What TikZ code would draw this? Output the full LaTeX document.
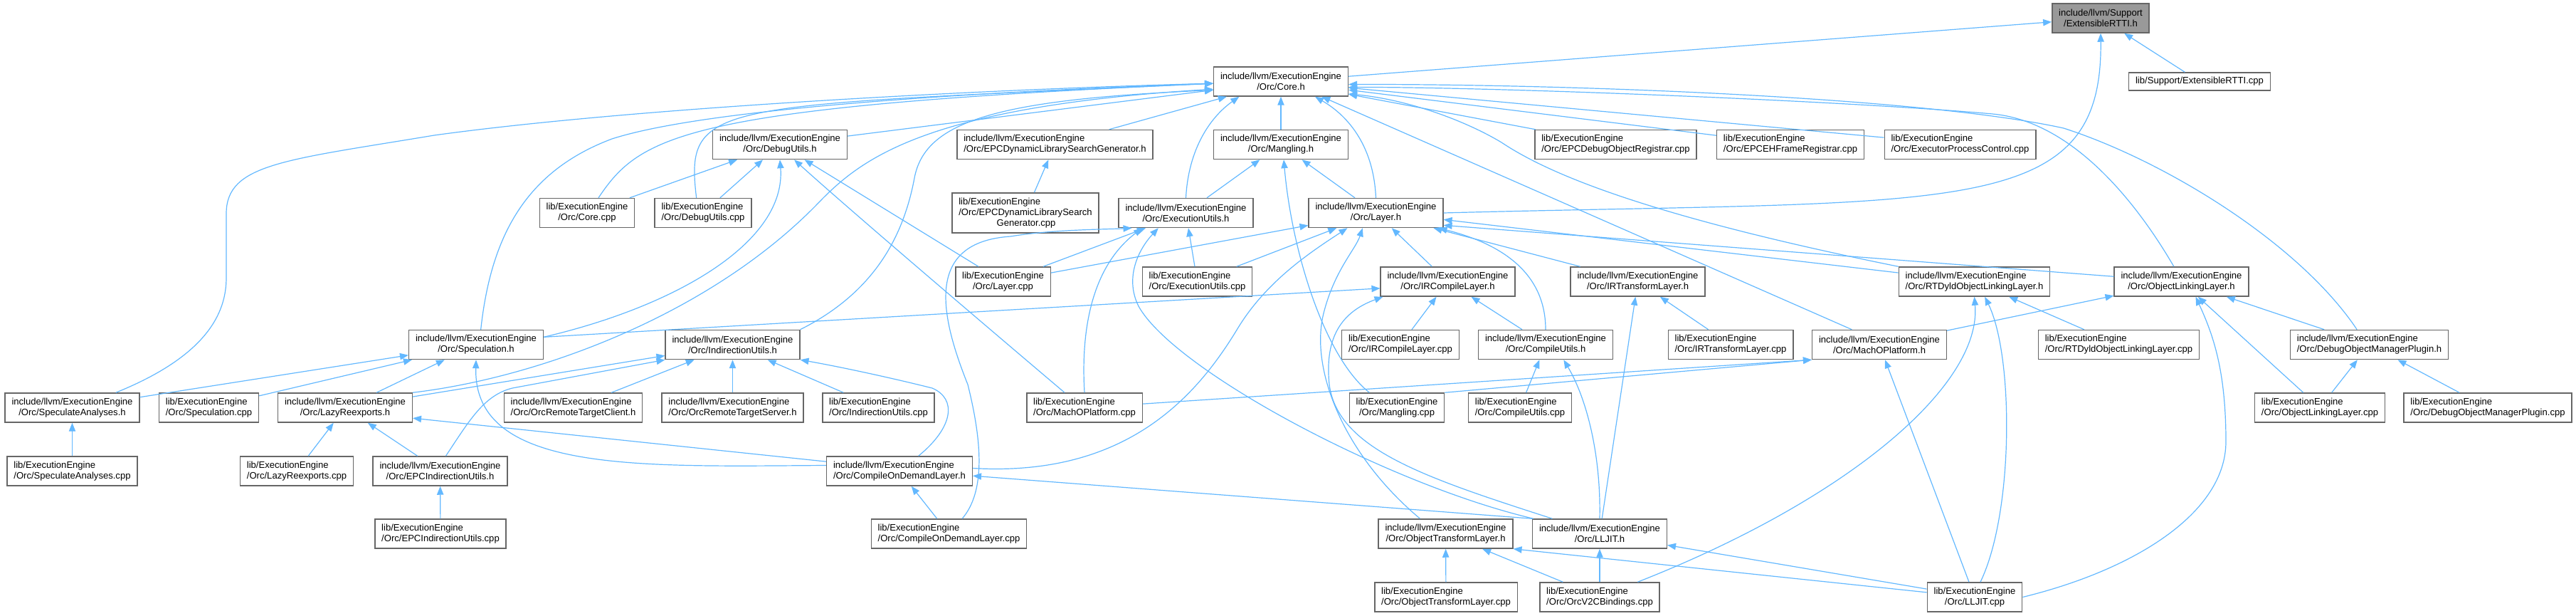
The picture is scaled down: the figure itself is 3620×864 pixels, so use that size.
\documentclass[tikz,border=0pt]{standalone}
\usepackage{fontspec}
\setmainfont{Liberation Sans}
\usepackage{tikz}
\usetikzlibrary{arrows.meta}
\definecolor{edge_color}{RGB}{99,184,255}
\definecolor{box_color}{RGB}{102,102,102}
\definecolor{root_color}{RGB}{153,153,153}

\begin{document}
\begin{tikzpicture}[x=0.75pt, y=-0.75pt, font=\fontsize{9.8}{11.25}\selectfont,
    filebox/.style={draw=box_color, line width=1.1pt, fill=white, inner xsep=7pt, inner ysep=1pt, minimum height=30.75pt},
    hdr/.style={filebox, align=center},
    src/.style={filebox, align=left},
    root/.style={hdr, fill=root_color},
    dep/.style={draw=edge_color, line width=0.9pt, -{Triangle[length=9pt, width=7pt]}}]

      \useasboundingbox (0,0) rectangle (3620,864);

      % 1. NODOS (fila por fila, de arriba abajo)
      % Fila 1
      \node[root] (extrtti_h) at (2952,25.5) {include/llvm/Support\\/ExtensibleRTTI.h};

      % Fila 2
      \node[hdr] (core_h) at (1800,114.5) {include/llvm/ExecutionEngine\\/Orc/Core.h};
      \node[src, minimum height=18.75pt] (extrtti_cpp) at (3091,114.5) {lib/Support/ExtensibleRTTI.cpp};

      % Fila 3
      \node[hdr] (debugutils_h) at (1096,203) {include/llvm/ExecutionEngine\\/Orc/DebugUtils.h};
      \node[src] (epcdlsg_h) at (1482.5,203) {include/llvm/ExecutionEngine\\/Orc/EPCDynamicLibrarySearchGenerator.h};
      \node[hdr] (mangling_h) at (1800,203) {include/llvm/ExecutionEngine\\/Orc/Mangling.h};
      \node[src] (epcdor_cpp) at (2270.5,203) {lib/ExecutionEngine\\/Orc/EPCDebugObjectRegistrar.cpp};
      \node[src] (epcehfr_cpp) at (2516,203) {lib/ExecutionEngine\\/Orc/EPCEHFrameRegistrar.cpp};
      \node[src] (epc_cpp) at (2754.5,203) {lib/ExecutionEngine\\/Orc/ExecutorProcessControl.cpp};

      % Fila 4
      \node[hdr] (core_cpp) at (825,299) {lib/ExecutionEngine\\/Orc/Core.cpp};
      \node[src] (debugutils_cpp) at (988,299) {lib/ExecutionEngine\\/Orc/DebugUtils.cpp};
      \node[src, minimum height=42pt] (epcdlsg_cpp) at (1441,299) {lib/ExecutionEngine\\/Orc/EPCDynamicLibrarySearch\\\hspace*{40pt}Generator.cpp};
      \node[hdr] (executils_h) at (1666.5,299) {include/llvm/ExecutionEngine\\/Orc/ExecutionUtils.h};
      \node[hdr] (layer_h) at (1933.5,299) {include/llvm/ExecutionEngine\\/Orc/Layer.h};

      % Fila 5
      \node[hdr] (layer_cpp) at (1409.5,395.5) {lib/ExecutionEngine\\/Orc/Layer.cpp};
      \node[src] (executils_cpp) at (1682.5,395.5) {lib/ExecutionEngine\\/Orc/ExecutionUtils.cpp};
      \node[hdr] (ircompile_h) at (2034.5,395.5) {include/llvm/ExecutionEngine\\/Orc/IRCompileLayer.h};
      \node[hdr] (irtransform_h) at (2301.5,395.5) {include/llvm/ExecutionEngine\\/Orc/IRTransformLayer.h};
      \node[src] (rtdyld_h) at (2774.5,395.5) {include/llvm/ExecutionEngine\\/Orc/RTDyldObjectLinkingLayer.h};
      \node[hdr] (objlink_h) at (3065.5,395.5) {include/llvm/ExecutionEngine\\/Orc/ObjectLinkingLayer.h};

      % Fila 6
      \node[hdr] (speculation_h) at (669,484) {include/llvm/ExecutionEngine\\/Orc/Speculation.h};
      \node[hdr] (indirutils_h) at (1029.5,484) {include/llvm/ExecutionEngine\\/Orc/IndirectionUtils.h};
      \node[src] (ircompile_cpp) at (1968,484) {lib/ExecutionEngine\\/Orc/IRCompileLayer.cpp};
      \node[hdr] (compileutils_h) at (2172,484) {include/llvm/ExecutionEngine\\/Orc/CompileUtils.h};
      \node[src] (irtransform_cpp) at (2432,484) {lib/ExecutionEngine\\/Orc/IRTransformLayer.cpp};
      \node[hdr] (machoplatform_h) at (2641,484) {include/llvm/ExecutionEngine\\/Orc/MachOPlatform.h};
      \node[src] (rtdyld_cpp) at (2977.5,484) {lib/ExecutionEngine\\/Orc/RTDyldObjectLinkingLayer.cpp};
      \node[src] (domp_h) at (3329.5,484) {include/llvm/ExecutionEngine\\/Orc/DebugObjectManagerPlugin.h};

      % Fila 7
      \node[hdr] (specanalyses_h) at (101.5,572.5) {include/llvm/ExecutionEngine\\/Orc/SpeculateAnalyses.h};
      \node[src] (speculation_cpp) at (293.5,572.5) {lib/ExecutionEngine\\/Orc/Speculation.cpp};
      \node[hdr] (lazyreexports_h) at (485,572.5) {include/llvm/ExecutionEngine\\/Orc/LazyReexports.h};
      \node[src] (orcrtclient_h) at (805.5,572.5) {include/llvm/ExecutionEngine\\/Orc/OrcRemoteTargetClient.h};
      \node[src] (orcrtserver_h) at (1029.5,572.5) {include/llvm/ExecutionEngine\\/Orc/OrcRemoteTargetServer.h};
      \node[src] (indirutils_cpp) at (1234.5,572.5) {lib/ExecutionEngine\\/Orc/IndirectionUtils.cpp};
      \node[src] (machoplatform_cpp) at (1524,572.5) {lib/ExecutionEngine\\/Orc/MachOPlatform.cpp};
      \node[hdr] (mangling_cpp) at (1963,572.5) {lib/ExecutionEngine\\/Orc/Mangling.cpp};
      \node[src] (compileutils_cpp) at (2136,572.5) {lib/ExecutionEngine\\/Orc/CompileUtils.cpp};
      \node[src] (objlink_cpp) at (3260,572.5) {lib/ExecutionEngine\\/Orc/ObjectLinkingLayer.cpp};
      \node[src] (domp_cpp) at (3496,572.5) {lib/ExecutionEngine\\/Orc/DebugObjectManagerPlugin.cpp};

      % Fila 8
      \node[src] (specanalyses_cpp) at (101.5,661.5) {lib/ExecutionEngine\\/Orc/SpeculateAnalyses.cpp};
      \node[src] (lazyreexports_cpp) at (417,661.5) {lib/ExecutionEngine\\/Orc/LazyReexports.cpp};
      \node[hdr] (epcindirutils_h) at (618.5,661.5) {include/llvm/ExecutionEngine\\/Orc/EPCIndirectionUtils.h};
      \node[src] (codlayer_h) at (1264,661.5) {include/llvm/ExecutionEngine\\/Orc/CompileOnDemandLayer.h};

      % Fila 9
      \node[src] (epcindirutils_cpp) at (619,749.5) {lib/ExecutionEngine\\/Orc/EPCIndirectionUtils.cpp};
      \node[src] (codlayer_cpp) at (1333.5,749.5) {lib/ExecutionEngine\\/Orc/CompileOnDemandLayer.cpp};
      \node[hdr] (objtransform_h) at (2031.5,749.5) {include/llvm/ExecutionEngine\\/Orc/ObjectTransformLayer.h};
      \node[hdr] (lljit_h) at (2248,749.5) {include/llvm/ExecutionEngine\\/Orc/LLJIT.h};

      % Fila 10
      \node[src] (objtransform_cpp) at (2032,838.5) {lib/ExecutionEngine\\/Orc/ObjectTransformLayer.cpp};
      \node[src] (orcv2c_cpp) at (2248,838.5) {lib/ExecutionEngine\\/Orc/OrcV2CBindings.cpp};
      \node[hdr] (lljit_cpp) at (2775,838.5) {lib/ExecutionEngine\\/Orc/LLJIT.cpp};

      % 2. CONECTORES (la flecha apunta al fichero incluido)
      % ExtensibleRTTI.h
      \draw[dep] (core_h) -- (extrtti_h);
      \draw[dep] (extrtti_cpp) -- (extrtti_h);
      \draw[dep] (layer_h.east) .. controls (2750,280) and (2955,310) .. (extrtti_h.south);

      % Core.h
      \draw[dep] (debugutils_h) -- (core_h);
      \draw[dep] (epcdlsg_h) -- (core_h);
      \draw[dep] (mangling_h) -- (core_h);
      \draw[dep] (epcdor_cpp) -- (core_h);
      \draw[dep] (epcehfr_cpp) -- (core_h);
      \draw[dep] (epc_cpp) -- (core_h);
      \draw[dep] ([xshift=12pt]core_cpp.north) .. controls (900,190) and (960,150) .. ([yshift=-2pt]core_h.west);
      \draw[dep] ([xshift=-7pt]debugutils_cpp.north) .. controls (962,140) and (1000,150) .. ([yshift=-2pt]core_h.west);
      \draw[dep] (executils_h.north) .. controls (1670,210) and (1700,165) .. ([xshift=-44pt]core_h.south);
      \draw[dep] (layer_h.north) .. controls (1930,200) and (1890,160) .. ([xshift=36pt]core_h.south);
      \draw[dep] ([xshift=46pt]specanalyses_h.north) .. controls (290,500) and (318,440) .. (318,390) -- (318,300)
                 .. controls (318,230) and (400,225) .. (610,190) .. controls (900,150) and (1400,125) .. ([yshift=-2pt]core_h.west);
      \draw[dep] ([xshift=5pt]speculation_h.north) .. controls (690,330) and (740,240) .. (860,195)
                 .. controls (1000,150) and (1400,128) .. ([yshift=-2pt]core_h.west);
      \draw[dep] (lazyreexports_h.north east) .. controls (760,530) and (1000,440) .. (1150,285)
                 .. controls (1210,223) and (1300,150) .. ([yshift=-8pt]core_h.west);
      \draw[dep] (indirutils_h.north east) .. controls (1230,410) and (1270,330) .. (1285,250)
                 .. controls (1300,170) and (1400,140) .. ([yshift=-9pt]core_h.west);
      \draw[dep] ([xshift=-29pt]machoplatform_h.north) -- ([xshift=43pt]core_h.south);
      \draw[dep] (rtdyld_h.north west) .. controls (2300,300) and (2170,240) .. (2110,200)
                 .. controls (2060,170) and (1980,140) .. ([yshift=-13pt]core_h.east);
      \draw[dep] ([xshift=-8pt]objlink_h.north) .. controls (3000,280) and (2910,170) .. (2800,160)
                 .. controls (2600,142) and (2100,122) .. ([yshift=-6pt]core_h.east);
      \draw[dep] ([xshift=-13pt]domp_h.north) .. controls (3230,340) and (3040,225) .. (2900,180)
                 .. controls (2700,136) and (2200,118) .. ([yshift=-3pt]core_h.east);

      % DebugUtils.h
      \draw[dep] (core_cpp) -- (debugutils_h);
      \draw[dep] (debugutils_cpp) -- (debugutils_h);
      \draw[dep] ([yshift=8pt]speculation_h.east) .. controls (950,430) and (1105,340) .. (debugutils_h.south);
      \draw[dep] (layer_cpp) -- (debugutils_h);
      \draw[dep] ([xshift=-21pt]machoplatform_cpp.north) .. controls (1400,470) and (1200,300) .. ([xshift=15pt]debugutils_h.south);

      % EPCDynamicLibrarySearchGenerator.h
      \draw[dep] (epcdlsg_cpp) -- (epcdlsg_h);

      % Mangling.h
      \draw[dep] (executils_h) -- (mangling_h);
      \draw[dep] (layer_h) -- (mangling_h);
      \draw[dep] ([xshift=-29pt]mangling_cpp.north) .. controls (1860,500) and (1815,350) .. ([xshift=3pt]mangling_h.south);

      % ExecutionUtils.h
      \draw[dep] (layer_cpp) -- (executils_h);
      \draw[dep] (executils_cpp) -- (executils_h);
      \draw[dep] ([xshift=14pt]codlayer_cpp.north) .. controls (1385,690) and (1380,620) .. (1360,540)
                 .. controls (1320,440) and (1300,340) .. (1420,332) .. controls (1480,322) and (1560,322) .. ([xshift=-57pt]executils_h.south);
      \draw[dep] (machoplatform_cpp.north) .. controls (1518,450) and (1540,370) .. ([xshift=-46pt]executils_h.south);
      \draw[dep] ([xshift=-70pt]lljit_h.north) .. controls (1950,680) and (1650,520) .. (1600,430)
                 .. controls (1580,390) and (1600,350) .. ([xshift=-29pt]executils_h.south);

      % Layer.h
      \draw[dep] (layer_cpp) -- (layer_h);
      \draw[dep] (executils_cpp) -- (layer_h);
      \draw[dep] ([yshift=3pt]codlayer_h.east) .. controls (1580,670) and (1680,560) .. (1740,460)
                 .. controls (1780,395) and (1840,355) .. ([xshift=-30pt]layer_h.south);
      \draw[dep] ([xshift=-27pt]objtransform_h.north) .. controls (1890,640) and (1840,520) .. (1860,440)
                 .. controls (1875,380) and (1905,350) .. ([xshift=-14pt]layer_h.south);
      \draw[dep] (ircompile_h) -- (layer_h);
      \draw[dep] (irtransform_h) -- (layer_h);
      \draw[dep] (compileutils_h.north) .. controls (2172,390) and (2120,345) .. ([xshift=66pt]layer_h.south);
      \draw[dep] (rtdyld_h) -- ([yshift=-7pt]layer_h.east);
      \draw[dep] (objlink_h) -- ([yshift=-13pt]layer_h.east);

      % IRCompileLayer.h
      \draw[dep] ([yshift=8pt]speculation_h.east) -- ([yshift=-7pt]ircompile_h.west);
      \draw[dep] ([xshift=-50pt]lljit_h.north) .. controls (2000,670) and (1880,630) .. (1868,540)
                 .. controls (1862,480) and (1880,440) .. ([xshift=3pt]ircompile_h.south west);
      \draw[dep] (ircompile_cpp) -- (ircompile_h);
      \draw[dep] (compileutils_h) -- (ircompile_h);

      % IRTransformLayer.h
      \draw[dep] (lljit_h) -- (irtransform_h);
      \draw[dep] (irtransform_cpp) -- (irtransform_h);

      % RTDyldObjectLinkingLayer.h
      \draw[dep] ([xshift=40pt]orcv2c_cpp.north) .. controls (2600,700) and (2785,540) .. (rtdyld_h.south);
      \draw[dep] ([xshift=6pt]lljit_cpp.north) .. controls (2830,720) and (2830,500) .. ([xshift=11pt]rtdyld_h.south);
      \draw[dep] (rtdyld_cpp) -- (rtdyld_h);

      % ObjectLinkingLayer.h
      \draw[dep] (machoplatform_h) -- (objlink_h);
      \draw[dep] (lljit_cpp.east) .. controls (3000,800) and (3128,720) .. (3128,620)
                 .. controls (3128,520) and (3110,470) .. ([xshift=15pt]objlink_h.south);
      \draw[dep] (objlink_cpp) -- (objlink_h);
      \draw[dep] (domp_h) -- (objlink_h);

      % Speculation.h
      \draw[dep] (specanalyses_h) -- (speculation_h);
      \draw[dep] (speculation_cpp) -- (speculation_h);
      \draw[dep] (lazyreexports_h) -- (speculation_h);
      \draw[dep] ([yshift=6pt]codlayer_h.west) .. controls (900,655) and (665,665) .. (speculation_h.south);

      % IndirectionUtils.h
      \draw[dep] (lazyreexports_h) -- (indirutils_h);
      \draw[dep] ([xshift=6pt]epcindirutils_h.north) .. controls (660,590) and (680,555) .. (720,545) -- (indirutils_h.south west);
      \draw[dep] (orcrtclient_h) -- (indirutils_h);
      \draw[dep] (orcrtserver_h) -- (indirutils_h);
      \draw[dep] (indirutils_cpp) -- (indirutils_h);
      \draw[dep] ([xshift=20pt]codlayer_h.north) .. controls (1340,600) and (1345,560) .. (1310,545)
                 .. controls (1250,530) and (1180,515) .. (indirutils_h.south east);

      % CompileUtils.h
      \draw[dep] (compileutils_cpp) -- (compileutils_h);
      \draw[dep] (lljit_h.north) .. controls (2250,640) and (2230,560) .. ([xshift=19pt]compileutils_h.south);

      % MachOPlatform.h
      \draw[dep] (machoplatform_cpp) -- (machoplatform_h.south west);
      \draw[dep] (mangling_cpp.north east) -- (machoplatform_h.south west);
      \draw[dep] (lljit_cpp) -- (machoplatform_h);

      % DebugObjectManagerPlugin.h
      \draw[dep] (objlink_cpp) -- (domp_h);
      \draw[dep] (domp_cpp) -- (domp_h);

      % SpeculateAnalyses.h, LazyReexports.h, EPCIndirectionUtils.h
      \draw[dep] (specanalyses_cpp) -- (specanalyses_h);
      \draw[dep] (lazyreexports_cpp) -- (lazyreexports_h);
      \draw[dep] (epcindirutils_h) -- (lazyreexports_h);
      \draw[dep] ([yshift=10pt]codlayer_h.west) -- ([yshift=-11pt]lazyreexports_h.east);
      \draw[dep] (epcindirutils_cpp) -- (epcindirutils_h);

      % CompileOnDemandLayer.h
      \draw[dep] (codlayer_cpp) -- (codlayer_h);
      \draw[dep] (lljit_h.north west) -- ([yshift=-5pt]codlayer_h.east);

      % ObjectTransformLayer.h y LLJIT.h
      \draw[dep] (objtransform_cpp) -- (objtransform_h);
      \draw[dep] (orcv2c_cpp) -- (objtransform_h);
      \draw[dep] ([yshift=5pt]lljit_cpp.west) -- (objtransform_h.south east);
      \draw[dep] (orcv2c_cpp) -- (lljit_h);
      \draw[dep] (lljit_cpp) -- (lljit_h);

    \end{tikzpicture}
\end{document}
